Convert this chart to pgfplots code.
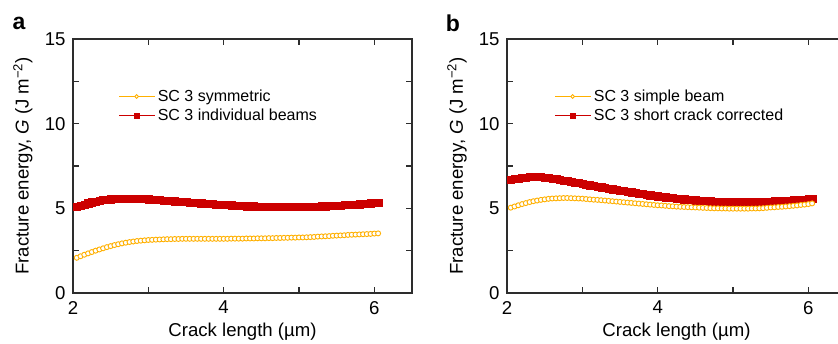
\documentclass[border=0pt]{standalone}
\usepackage{fontspec}
\setmainfont{Liberation Sans}
\usepackage{pgfplots}
\usepackage{pgfplotstable}
\pgfplotsset{compat=1.18}
\definecolor{cyel}{RGB}{255,176,0}
\definecolor{cred}{RGB}{204,0,0}
\definecolor{cax}{RGB}{45,45,45}

\pgfplotstableread{
x y
2.05 5.10
2.10 5.17
2.15 5.24
2.20 5.31
2.25 5.37
2.30 5.42
2.35 5.46
2.40 5.50
2.45 5.53
2.50 5.55
2.55 5.57
2.60 5.58
2.65 5.59
2.70 5.59
2.75 5.59
2.80 5.59
2.85 5.58
2.90 5.57
2.95 5.56
3.00 5.55
3.05 5.53
3.10 5.52
3.15 5.50
3.20 5.48
3.25 5.47
3.30 5.45
3.35 5.43
3.40 5.41
3.45 5.39
3.50 5.38
3.55 5.36
3.60 5.34
3.65 5.32
3.70 5.31
3.75 5.29
3.80 5.27
3.85 5.26
3.90 5.24
3.95 5.23
4.00 5.21
4.05 5.20
4.10 5.19
4.15 5.18
4.20 5.16
4.25 5.15
4.30 5.14
4.35 5.13
4.40 5.13
4.45 5.12
4.50 5.11
4.55 5.11
4.60 5.10
4.65 5.10
4.70 5.09
4.75 5.09
4.80 5.09
4.85 5.09
4.90 5.09
4.95 5.09
5.00 5.09
5.05 5.10
5.10 5.10
5.15 5.11
5.20 5.11
5.25 5.12
5.30 5.13
5.35 5.14
5.40 5.15
5.45 5.16
5.50 5.17
5.55 5.18
5.60 5.20
5.65 5.21
5.70 5.22
5.75 5.24
5.80 5.25
5.85 5.27
5.90 5.29
5.95 5.31
6.00 5.33
6.05 5.35
}\redA

\pgfplotstableread{
x y
2.05 2.08
2.10 2.17
2.15 2.26
2.20 2.34
2.25 2.42
2.30 2.50
2.35 2.57
2.40 2.64
2.45 2.71
2.50 2.77
2.55 2.83
2.60 2.88
2.65 2.93
2.70 2.97
2.75 3.01
2.80 3.04
2.85 3.07
2.90 3.09
2.95 3.11
3.00 3.13
3.05 3.14
3.10 3.15
3.15 3.16
3.20 3.17
3.25 3.18
3.30 3.18
3.35 3.19
3.40 3.19
3.45 3.20
3.50 3.20
3.55 3.20
3.60 3.20
3.65 3.20
3.70 3.20
3.75 3.20
3.80 3.20
3.85 3.20
3.90 3.20
3.95 3.20
4.00 3.20
4.05 3.20
4.10 3.21
4.15 3.21
4.20 3.21
4.25 3.21
4.30 3.22
4.35 3.22
4.40 3.22
4.45 3.23
4.50 3.23
4.55 3.23
4.60 3.24
4.65 3.24
4.70 3.25
4.75 3.25
4.80 3.26
4.85 3.26
4.90 3.27
4.95 3.27
5.00 3.28
5.05 3.28
5.10 3.29
5.15 3.30
5.20 3.31
5.25 3.33
5.30 3.34
5.35 3.35
5.40 3.36
5.45 3.38
5.50 3.39
5.55 3.40
5.60 3.41
5.65 3.43
5.70 3.44
5.75 3.45
5.80 3.46
5.85 3.47
5.90 3.48
5.95 3.49
6.00 3.51
6.05 3.52
}\yelA

\pgfplotstableread{
x y
2.05 6.70
2.10 6.74
2.15 6.78
2.20 6.81
2.25 6.84
2.30 6.86
2.35 6.87
2.40 6.87
2.45 6.86
2.50 6.84
2.55 6.81
2.60 6.78
2.65 6.74
2.70 6.70
2.75 6.66
2.80 6.62
2.85 6.58
2.90 6.54
2.95 6.50
3.00 6.46
3.05 6.42
3.10 6.38
3.15 6.34
3.20 6.30
3.25 6.26
3.30 6.22
3.35 6.18
3.40 6.14
3.45 6.10
3.50 6.06
3.55 6.03
3.60 5.99
3.65 5.96
3.70 5.92
3.75 5.89
3.80 5.86
3.85 5.82
3.90 5.79
3.95 5.76
4.00 5.73
4.05 5.70
4.10 5.67
4.15 5.65
4.20 5.62
4.25 5.60
4.30 5.57
4.35 5.55
4.40 5.53
4.45 5.51
4.50 5.49
4.55 5.48
4.60 5.46
4.65 5.45
4.70 5.43
4.75 5.42
4.80 5.41
4.85 5.40
4.90 5.40
4.95 5.39
5.00 5.39
5.05 5.38
5.10 5.38
5.15 5.38
5.20 5.38
5.25 5.39
5.30 5.39
5.35 5.40
5.40 5.40
5.45 5.41
5.50 5.42
5.55 5.43
5.60 5.44
5.65 5.45
5.70 5.46
5.75 5.48
5.80 5.49
5.85 5.50
5.90 5.52
5.95 5.54
6.00 5.55
6.05 5.57
}\redB

\pgfplotstableread{
x y
2.05 5.04
2.10 5.11
2.15 5.18
2.20 5.25
2.25 5.31
2.30 5.37
2.35 5.42
2.40 5.46
2.45 5.50
2.50 5.53
2.55 5.56
2.60 5.58
2.65 5.59
2.70 5.60
2.75 5.61
2.80 5.61
2.85 5.60
2.90 5.59
2.95 5.58
3.00 5.57
3.05 5.55
3.10 5.53
3.15 5.51
3.20 5.50
3.25 5.48
3.30 5.46
3.35 5.44
3.40 5.42
3.45 5.40
3.50 5.38
3.55 5.36
3.60 5.34
3.65 5.32
3.70 5.30
3.75 5.28
3.80 5.26
3.85 5.24
3.90 5.22
3.95 5.20
4.00 5.18
4.05 5.17
4.10 5.15
4.15 5.13
4.20 5.12
4.25 5.10
4.30 5.09
4.35 5.08
4.40 5.07
4.45 5.06
4.50 5.05
4.55 5.04
4.60 5.03
4.65 5.02
4.70 5.01
4.75 5.00
4.80 5.00
4.85 4.99
4.90 4.99
4.95 4.98
5.00 4.98
5.05 4.98
5.10 4.98
5.15 4.98
5.20 4.98
5.25 4.99
5.30 4.99
5.35 5.00
5.40 5.01
5.45 5.03
5.50 5.05
5.55 5.06
5.60 5.08
5.65 5.09
5.70 5.11
5.75 5.13
5.80 5.15
5.85 5.17
5.90 5.20
5.95 5.22
6.00 5.25
6.05 5.29
}\yelB

\pgfplotsset{
  panel/.style={
    scale only axis, width=339pt, height=254pt,
    xmin=2, xmax=6.5, ymin=0, ymax=15,
    xtick={2,4,6}, minor xtick={3,5},
    ytick={0,5,10,15}, minor ytick={2.5,7.5,12.5},
    tick align=inside, major tick length=6pt, minor tick length=6pt,
    axis line style={cax, line width=1.2pt},
    every tick/.style={cax, line width=1.2pt},
    /pgf/number format/assume math mode=true,
    tick label style={font=\fontsize{18.6}{20}\selectfont},
    xticklabel style={yshift=-4.5pt},
    yticklabel style={xshift=-4pt},
    label style={font=\fontsize{18.6}{20}\selectfont},
    xlabel={Crack length (µm)},
    ylabel={Fracture energy, \textit{G} (J m\textsuperscript{−2})},
    xlabel style={at={(axis description cs:0.5,-0.1535)}, anchor=center},
    ylabel style={at={(axis description cs:-0.1475,0.5)}, anchor=center},
    legend cell align=left,
    reverse legend,
    legend style={draw=none, fill=none, anchor=west, inner sep=0pt,
      font=\fontsize{16}{18}\selectfont, row sep=2pt,
      nodes={inner sep=2pt}},
    legend image code/.code={
      \draw[#1, mark repeat=2, mark phase=2, every mark/.append style={scale=0.75}]
        plot coordinates {(0pt,0pt) (17.5pt,0pt) (36pt,0pt)};},
  },
  redser/.style={color=cred, line width=1.5pt, mark=square*, mark size=3.6pt,
    mark options={solid, fill=cred, draw=cred, line width=0.1pt}},
  yelser/.style={color=cyel, line width=1.5pt, mark=*, mark size=2.5pt,
    mark options={solid, fill=white, draw=cyel, line width=0.9pt}},
}

\begin{document}
\begin{tikzpicture}
\useasboundingbox (0pt,0pt) rectangle (838pt,343pt);
\begin{scope}
\clip (0pt,0pt) rectangle (838pt,343pt);
\begin{axis}[panel, at={(73pt,50pt)}, anchor=south west,
  legend style={at={(axis description cs:0.133,0.736)}}]
  \addplot[redser] table[x=x,y=y] {\redA};
  \addlegendentry{SC 3 individual beams}
  \addplot[yelser] table[x=x,y=y] {\yelA};
  \addlegendentry{SC 3 symmetric}
\end{axis}
\begin{axis}[panel, at={(507pt,50pt)}, anchor=south west,
  legend style={at={(axis description cs:0.139,0.736)}}]
  \addplot[redser] table[x=x,y=y] {\redB};
  \addlegendentry{SC 3 short crack corrected}
  \addplot[yelser] table[x=x,y=y] {\yelB};
  \addlegendentry{SC 3 simple beam}
\end{axis}
\end{scope}
\node[font=\bfseries\fontsize{23}{23}\selectfont] at (19pt,320pt) {a};
\node[font=\bfseries\fontsize{23}{23}\selectfont] at (453pt,320pt) {b};
\end{tikzpicture}
\end{document}
